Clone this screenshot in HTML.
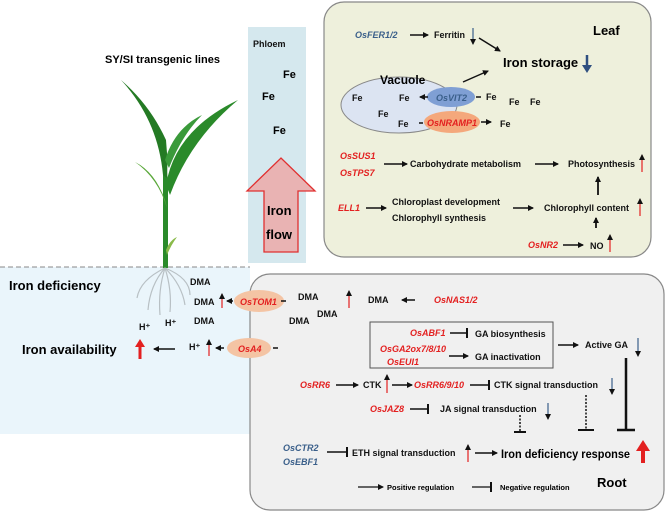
<!DOCTYPE html>
<html><head><meta charset="utf-8"><style>
body{margin:0;background:#fff}
svg text{font-family:"Liberation Sans",Arial,sans-serif;font-weight:bold}
.r{fill:#e32020;font-style:italic;font-size:9px}
.b{fill:#3a5f8a;font-style:italic;font-size:9px}
.k{fill:#111;font-size:9px}
</style></head><body>
<svg width="669" height="514" viewBox="0 0 669 514" xmlns="http://www.w3.org/2000/svg">
<defs>
<marker id="a" markerWidth="6" markerHeight="6" refX="5" refY="3" orient="auto" markerUnits="userSpaceOnUse"><path d="M0,0 L6,3 L0,6z" fill="#111"/></marker>
<marker id="t" markerWidth="2" markerHeight="10" refX="1" refY="5" orient="auto" markerUnits="userSpaceOnUse"><rect x="0" y="0" width="2" height="10" fill="#111"/></marker>
</defs>
<rect x="0" y="267" width="250" height="167" fill="#eaf5fb"/>
<line x1="0" y1="267" x2="250" y2="267" stroke="#888" stroke-dasharray="5,3"/>
<rect x="248" y="27" width="58" height="236" fill="#d5e8ee"/>
<rect x="324" y="2" width="327" height="255" rx="20" fill="#eef0dc" stroke="#888" stroke-width="1.2"/>
<rect x="250" y="274" width="414" height="236" rx="20" fill="#f0f0f0" stroke="#888" stroke-width="1.2"/>
<path d="M247,191 L281,158 L315,191 L298,191 L298,252 L264,252 L264,191z" fill="#e9b3b3" stroke="#e03030" stroke-width="1.3"/>
<text x="253" y="47" class="k">Phloem</text>
<text x="283" y="78" style="font-size:11px">Fe</text>
<text x="262" y="100" style="font-size:11px">Fe</text>
<text x="273" y="134" style="font-size:11px">Fe</text>
<text x="267" y="215" style="font-size:13px">Iron</text>
<text x="266" y="239" style="font-size:13px">flow</text>
<text x="105" y="63" style="font-size:11px">SY/SI transgenic lines</text>
<path d="M163,268 L163,150 Q168,168 168,190 L168,268z" fill="#2a8a2a"/>
<path d="M163,175 Q158,120 121,80 Q150,105 166,140 Q168,160 167,178z" fill="#247a24"/>
<path d="M166,185 Q175,130 238,100 Q190,140 170,195z" fill="#2a8a2a"/>
<path d="M165,160 Q175,128 202,115 Q182,135 169,168z" fill="#3a9a3a"/>
<path d="M165,200 Q155,172 135,162 Q158,178 167,208z" fill="#5aa83a"/>
<path d="M166,250 Q170,240 177,237 Q171,245 167,255z" fill="#8aba4a"/>
<g stroke="#b8c0c4" fill="none" stroke-width="1.2">
<path d="M165,268 Q150,285 148,310"/><path d="M165,268 Q158,290 160,315"/><path d="M165,268 Q172,290 170,312"/><path d="M165,268 Q182,285 185,305"/><path d="M165,268 Q140,280 137,298"/><path d="M165,268 Q190,278 190,295"/>
</g>
<text x="9" y="290" style="font-size:13px">Iron deficiency</text>
<text x="22" y="354" style="font-size:13px">Iron availability</text>
<path d="M140,359 L140,346" stroke="#e32020" stroke-width="3"/><path d="M135,347 L140,339 L145,347z" fill="#e32020"/>
<line x1="175" y1="349" x2="154" y2="349" stroke="#111" stroke-width="1.5" marker-end="url(#a)"/>
<text x="139" y="330" class="k">H⁺</text><text x="165" y="326" class="k">H⁺</text>
<text x="190" y="285" class="k">DMA</text><text x="194" y="305" class="k">DMA</text><text x="194" y="324" class="k">DMA</text>
<text x="189" y="350" class="k">H⁺</text>
<line x1="222" y1="308" x2="222" y2="294" stroke="#e32020" stroke-width="1.2" marker-end="url(#a)"/>
<line x1="209" y1="356" x2="209" y2="340" stroke="#e32020" stroke-width="1.2" marker-end="url(#a)"/>
<line x1="233" y1="301" x2="227" y2="301" stroke="#111" stroke-width="1.5" marker-end="url(#a)"/>
<line x1="224" y1="348" x2="216" y2="348" stroke="#111" stroke-width="1.5" marker-end="url(#a)"/>
<ellipse cx="259" cy="301" rx="25" ry="11" fill="#f4c4a4"/><text x="240" y="305" class="r">OsTOM1</text>
<ellipse cx="249" cy="348" rx="22" ry="10" fill="#f4c4a4"/><text x="238" y="352" class="r">OsA4</text>
<line x1="281" y1="301" x2="286" y2="301" stroke="#111" stroke-width="1.5"/>
<line x1="273" y1="348" x2="278" y2="348" stroke="#111" stroke-width="1.5"/>
<text x="593" y="35" style="font-size:13px">Leaf</text>
<text x="355" y="38" class="b">OsFER1/2</text>
<line x1="410" y1="35" x2="428" y2="35" stroke="#111" stroke-width="1.5" marker-end="url(#a)"/>
<text x="434" y="38" class="k">Ferritin</text>
<line x1="473" y1="28" x2="473" y2="44" stroke="#3a5f8a" stroke-width="1.2" marker-end="url(#a)"/>
<line x1="479" y1="38" x2="500" y2="51" stroke="#111" stroke-width="1.5" marker-end="url(#a)"/>
<text x="503" y="67" style="font-size:13px">Iron storage</text>
<path d="M587,55 L587,66" stroke="#2f4f80" stroke-width="2.5"/><path d="M582,65 L587,73 L592,65z" fill="#2f4f80"/>
<ellipse cx="399" cy="105" rx="58" ry="28" fill="#dce4f2" stroke="#888"/>
<text x="380" y="84" style="font-size:12px">Vacuole</text>
<line x1="463" y1="82" x2="488" y2="71" stroke="#111" stroke-width="1.5" marker-end="url(#a)"/>
<text x="352" y="101" class="k">Fe</text><text x="399" y="101" class="k">Fe</text><text x="378" y="117" class="k">Fe</text><text x="398" y="127" class="k">Fe</text>
<ellipse cx="451" cy="97" rx="24" ry="10" fill="#7f9fd4"/><text x="436" y="101" class="b">OsVIT2</text>
<line x1="428" y1="97" x2="420" y2="97" stroke="#111" stroke-width="1.5" marker-end="url(#a)"/>
<line x1="476" y1="97" x2="481" y2="97" stroke="#111" stroke-width="1.5"/>
<text x="486" y="100" class="k">Fe</text><text x="509" y="105" class="k">Fe</text><text x="530" y="105" class="k">Fe</text>
<ellipse cx="452" cy="122" rx="28" ry="11" fill="#f4a87c"/><text x="427" y="126" class="r">OsNRAMP1</text>
<line x1="419" y1="123" x2="423" y2="123" stroke="#111" stroke-width="1.5"/>
<line x1="481" y1="122" x2="491" y2="122" stroke="#111" stroke-width="1.5" marker-end="url(#a)"/>
<text x="500" y="127" class="k">Fe</text>
<text x="340" y="159" class="r">OsSUS1</text><text x="340" y="176" class="r">OsTPS7</text>
<line x1="384" y1="164" x2="407" y2="164" stroke="#111" stroke-width="1.5" marker-end="url(#a)"/>
<text x="410" y="167" class="k">Carbohydrate metabolism</text>
<line x1="535" y1="164" x2="558" y2="164" stroke="#111" stroke-width="1.5" marker-end="url(#a)"/>
<text x="568" y="167" class="k">Photosynthesis</text>
<line x1="642" y1="172" x2="642" y2="155" stroke="#e32020" stroke-width="1.2" marker-end="url(#a)"/>
<text x="338" y="211" class="r">ELL1</text>
<line x1="366" y1="208" x2="386" y2="208" stroke="#111" stroke-width="1.5" marker-end="url(#a)"/>
<text x="392" y="205" class="k">Chloroplast development</text>
<text x="392" y="221" class="k">Chlorophyll synthesis</text>
<line x1="513" y1="208" x2="533" y2="208" stroke="#111" stroke-width="1.5" marker-end="url(#a)"/>
<text x="544" y="211" class="k">Chlorophyll content</text>
<line x1="640" y1="216" x2="640" y2="199" stroke="#e32020" stroke-width="1.2" marker-end="url(#a)"/>
<line x1="598" y1="195" x2="598" y2="177" stroke="#111" stroke-width="1.8" marker-end="url(#a)"/>
<line x1="596" y1="228" x2="596" y2="218" stroke="#111" stroke-width="1.8" marker-end="url(#a)"/>
<text x="528" y="248" class="r">OsNR2</text>
<line x1="563" y1="245" x2="583" y2="245" stroke="#111" stroke-width="1.5" marker-end="url(#a)"/>
<text x="590" y="249" class="k">NO</text>
<line x1="610" y1="252" x2="610" y2="235" stroke="#e32020" stroke-width="1.2" marker-end="url(#a)"/>
<text x="298" y="300" class="k">DMA</text><text x="317" y="317" class="k">DMA</text><text x="289" y="324" class="k">DMA</text>
<line x1="349" y1="308" x2="349" y2="291" stroke="#e32020" stroke-width="1.2" marker-end="url(#a)"/>
<text x="368" y="303" class="k">DMA</text>
<line x1="415" y1="300" x2="402" y2="300" stroke="#111" stroke-width="1.5" marker-end="url(#a)"/>
<text x="434" y="303" class="r">OsNAS1/2</text>
<rect x="370" y="322" width="183" height="46" fill="none" stroke="#555"/>
<text x="410" y="336" class="r">OsABF1</text>
<line x1="450" y1="333" x2="467" y2="333" stroke="#111" stroke-width="1.5" marker-end="url(#t)"/>
<text x="475" y="337" class="k">GA biosynthesis</text>
<text x="380" y="352" class="r">OsGA2ox7/8/10</text><text x="387" y="365" class="r">OsEUI1</text>
<line x1="449" y1="356" x2="468" y2="356" stroke="#111" stroke-width="1.5" marker-end="url(#a)"/>
<text x="475" y="360" class="k">GA inactivation</text>
<line x1="558" y1="345" x2="578" y2="345" stroke="#111" stroke-width="1.5" marker-end="url(#a)"/>
<text x="585" y="348" class="k">Active GA</text>
<line x1="638" y1="338" x2="638" y2="356" stroke="#3a5f8a" stroke-width="1.2" marker-end="url(#a)"/>
<text x="300" y="388" class="r">OsRR6</text>
<line x1="336" y1="385" x2="358" y2="385" stroke="#111" stroke-width="1.5" marker-end="url(#a)"/>
<text x="363" y="388" class="k">CTK</text>
<line x1="387" y1="393" x2="387" y2="375" stroke="#e32020" stroke-width="1.2" marker-end="url(#a)"/>
<line x1="392" y1="385" x2="412" y2="385" stroke="#111" stroke-width="1.5" marker-end="url(#a)"/>
<text x="414" y="388" class="r">OsRR6/9/10</text>
<line x1="470" y1="385" x2="489" y2="385" stroke="#111" stroke-width="1.5" marker-end="url(#t)"/>
<text x="494" y="388" class="k">CTK signal transduction</text>
<line x1="612" y1="378" x2="612" y2="394" stroke="#3a5f8a" stroke-width="1.2" marker-end="url(#a)"/>
<text x="370" y="412" class="r">OsJAZ8</text>
<line x1="410" y1="409" x2="428" y2="409" stroke="#111" stroke-width="1.5" marker-end="url(#t)"/>
<text x="440" y="412" class="k">JA signal transduction</text>
<line x1="548" y1="403" x2="548" y2="419" stroke="#3a5f8a" stroke-width="1.2" marker-end="url(#a)"/>
<line x1="520" y1="415" x2="520" y2="431" stroke="#111" stroke-width="1.5" stroke-dasharray="2,1.5"/>
<line x1="514" y1="432" x2="526" y2="432" stroke="#111" stroke-width="2"/>
<line x1="586" y1="395" x2="586" y2="429" stroke="#111" stroke-width="1.5" stroke-dasharray="2,1.5"/>
<line x1="578" y1="430" x2="594" y2="430" stroke="#111" stroke-width="2"/>
<line x1="626" y1="358" x2="626" y2="429" stroke="#111" stroke-width="2.5"/>
<line x1="617" y1="430" x2="635" y2="430" stroke="#111" stroke-width="2.5"/>
<text x="283" y="451" class="b">OsCTR2</text><text x="283" y="465" class="b">OsEBF1</text>
<line x1="327" y1="452" x2="347" y2="452" stroke="#111" stroke-width="1.5" marker-end="url(#t)"/>
<text x="352" y="456" class="k">ETH signal transduction</text>
<line x1="468" y1="462" x2="468" y2="445" stroke="#e32020" stroke-width="1.2" marker-end="url(#a)"/>
<line x1="475" y1="453" x2="497" y2="453" stroke="#111" stroke-width="1.5" marker-end="url(#a)"/>
<text x="501" y="458" style="font-size:12px" textLength="129" lengthAdjust="spacingAndGlyphs">Iron deficiency response</text>
<path d="M643,463 L643,450" stroke="#e32020" stroke-width="4"/><path d="M636,451 L643,440 L650,451z" fill="#e32020"/>
<line x1="358" y1="487" x2="383" y2="487" stroke="#111" stroke-width="1.2" marker-end="url(#a)"/>
<text x="387" y="490" style="font-size:7.5px">Positive regulation</text>
<line x1="472" y1="487" x2="491" y2="487" stroke="#111" stroke-width="1.2" marker-end="url(#t)"/>
<text x="500" y="490" style="font-size:7.5px">Negative regulation</text>
<text x="597" y="487" style="font-size:13px">Root</text>
</svg>
</body></html>
